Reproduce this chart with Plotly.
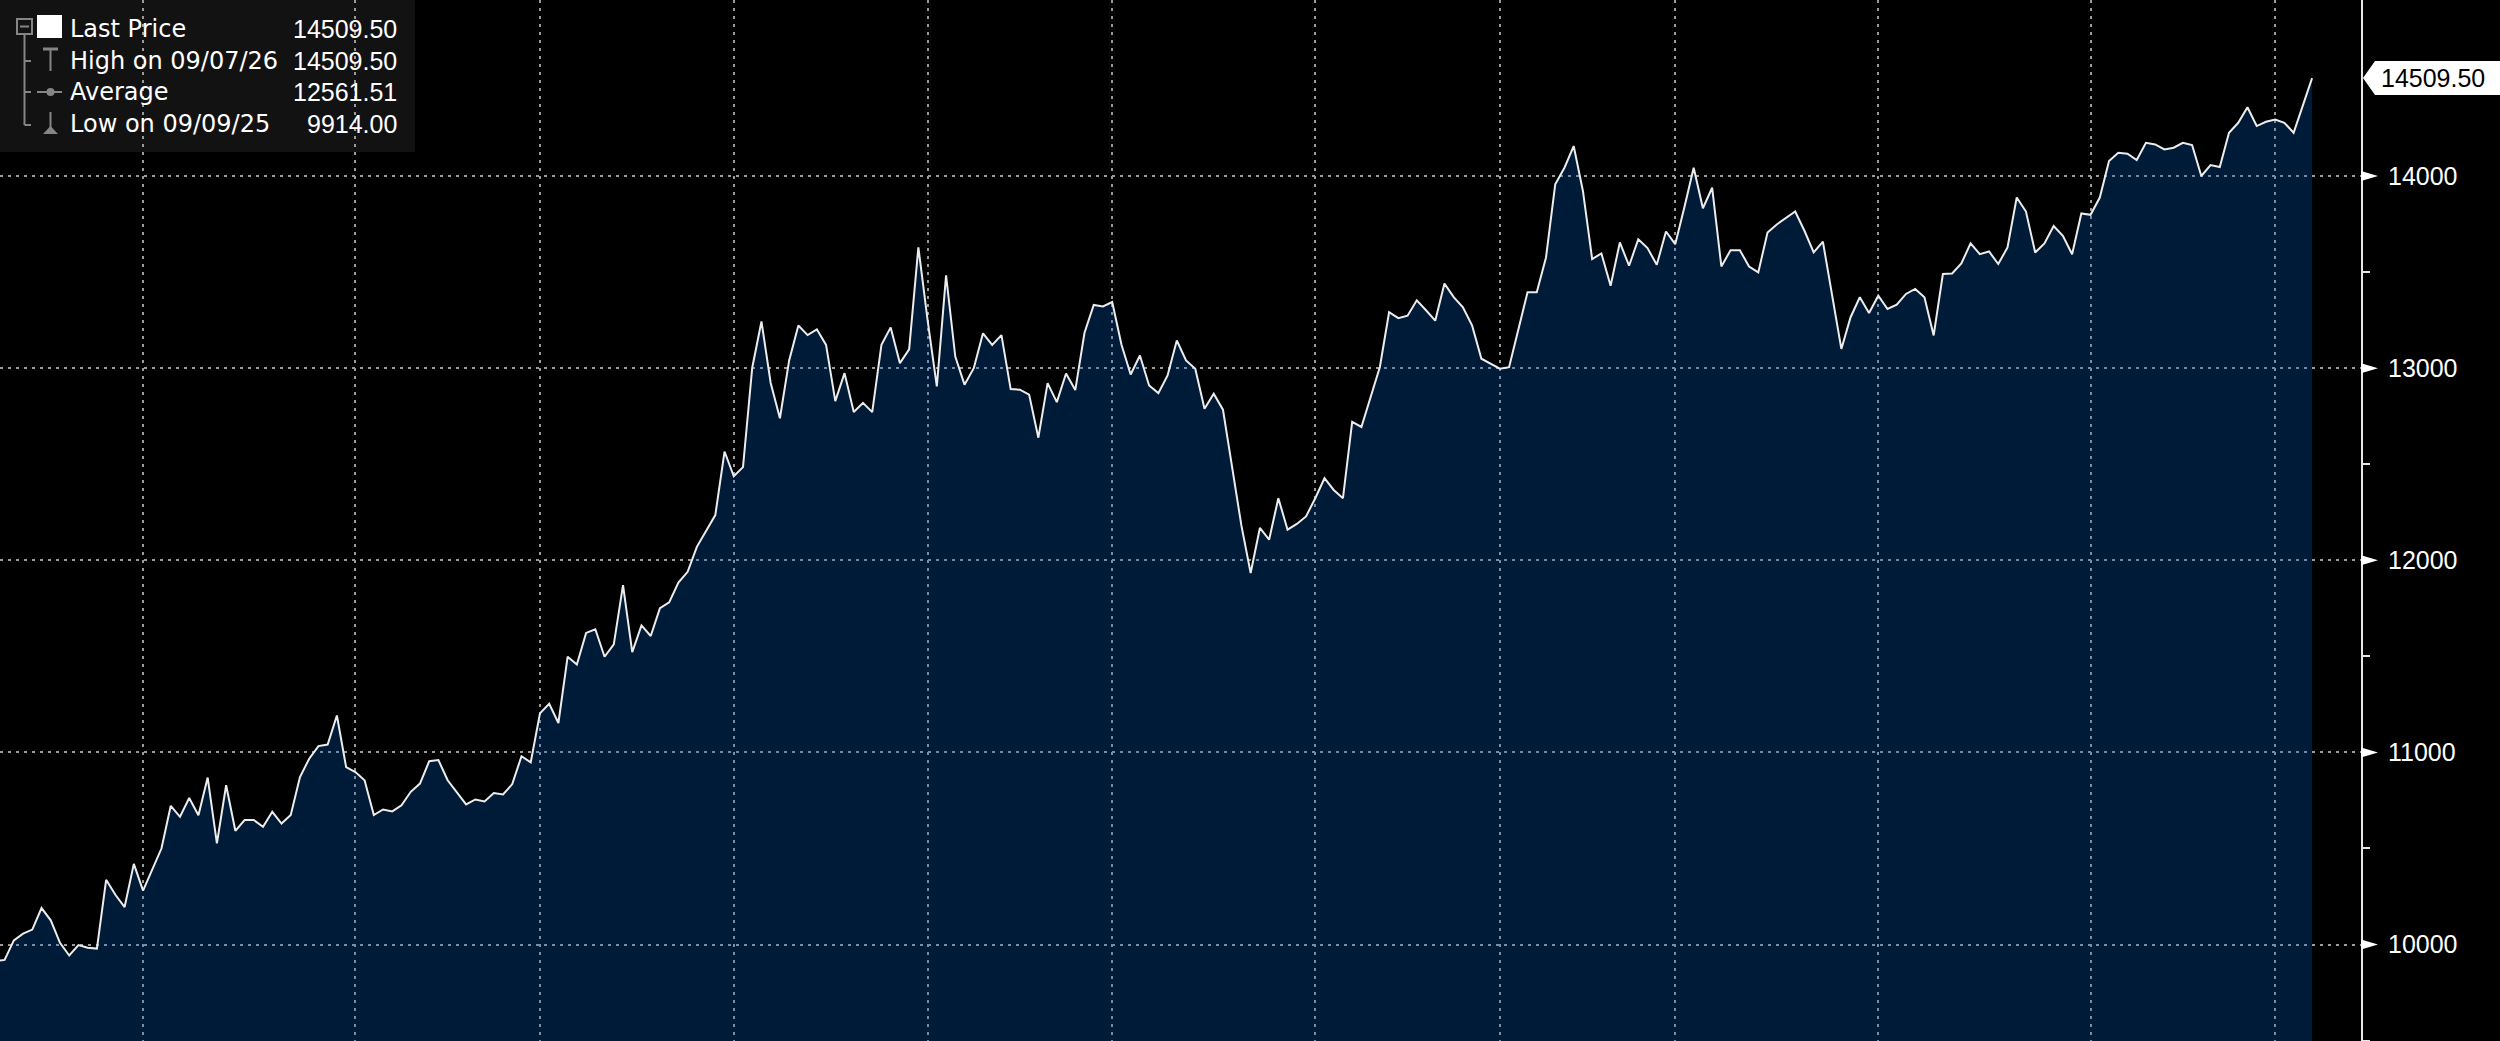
import pandas as pd
import plotly.graph_objects as go

# ---------------- data ----------------
start_date = "2025-09-09"
end_date = "2026-09-07"
holidays = ["2025-12-25", "2025-12-26", "2026-01-01", "2026-04-03",
            "2026-04-06", "2026-05-04", "2026-05-25", "2026-08-31"]

prices = [
    9914, 9920, 10022, 10057, 10078, 10190, 10126, 10009, 9943, 9997,
    9983, 9979, 10337, 10259, 10195, 10420, 10281, 10389, 10501, 10722,
    10665, 10763, 10673, 10869, 10527, 10829, 10592, 10648, 10648, 10613,
    10691, 10630, 10674, 10872, 10967, 11033, 11041, 11192, 10924, 10898,
    10855, 10674, 10703, 10693, 10725, 10795, 10838, 10954, 10960, 10855,
    10790, 10729, 10755, 10745, 10789, 10781, 10835, 10980, 10948, 11203,
    11253, 11153, 11498, 11458, 11622, 11641, 11498, 11562, 11871, 11522,
    11661, 11606, 11751, 11781, 11884, 11940, 12070, 12149, 12235, 12566,
    12437, 12485, 13002, 13243, 12923, 12739, 13040, 13222, 13172, 13202,
    13121, 12828, 12974, 12772, 12819, 12771, 13121, 13212, 13026, 13098,
    13629, 13250, 12905, 13483, 13060, 12914, 13000, 13181, 13121, 13172,
    12891, 12888, 12862, 12638, 12922, 12823, 12972, 12886, 13184, 13329,
    13321, 13344, 13123, 12967, 13066, 12910, 12870, 12962, 13144, 13040,
    12997, 12789, 12867, 12784, 12470, 12180, 11934, 12168, 12107, 12323,
    12159, 12189, 12228, 12323, 12427, 12366, 12323, 12720, 12694, 12850,
    13006, 13291, 13260, 13273, 13353, 13301, 13247, 13440, 13370, 13316,
    13221, 13049, 13022, 12997, 13005, 13196, 13395, 13395, 13576, 13957,
    14043, 14156, 13922, 13568, 13597, 13429, 13654, 13533, 13671, 13625,
    13538, 13711, 13645, 13839, 14043, 13832, 13939, 13529, 13614, 13614,
    13529, 13498, 13706, 13748, 13780, 13815, 13715, 13602, 13658, 13377,
    13100, 13265, 13369, 13287, 13377, 13308, 13330, 13386, 13412, 13369,
    13170, 13490, 13493, 13545, 13649, 13593, 13607, 13542, 13628, 13888,
    13815, 13602, 13649, 13740, 13689, 13593, 13805, 13798, 13888, 14078,
    14121, 14116, 14083, 14173, 14164, 14138, 14147, 14173, 14161, 14000,
    14057, 14047, 14225, 14277, 14358, 14260, 14282, 14294, 14277, 14225,
    14367, 14509.5,
]

average_value = 12561.51          # as printed in the legend
y_ticks = [10000, 11000, 12000, 13000, 14000]
y_minor = [9500, 10500, 11500, 12500, 13500]

# ---------------- derived ----------------
dates = pd.bdate_range(start_date, end_date)
dates = dates[~dates.isin(pd.to_datetime(holidays))]
n = min(len(dates), len(prices))
dates = dates[:n]
prices = prices[:n]
xs = list(range(n))
month_starts = [i for i in range(1, n) if dates[i].month != dates[i - 1].month]

last_v = prices[-1]
hi_i = max(range(n), key=lambda i: prices[i])
lo_i = min(range(n), key=lambda i: prices[i])
hi_date = dates[hi_i].strftime("%m/%d/%y")
lo_date = dates[lo_i].strftime("%m/%d/%y")

# ---------------- geometry ----------------
W, H = 2500, 1041
PW = 2361                      # plot-area width in px
Y_RANGE = [9498, 14916]
X_RANGE = [0.5, 256.3]
DPP = (Y_RANGE[1] - Y_RANGE[0]) / H   # data units per px (y)


def px(p):
    return p / PW


def py(p):
    return 1 - p / H


FONT = "Liberation Sans, Arial, sans-serif"
LABEL_FONT = "DejaVu Sans, Verdana, sans-serif"
GRID = "#9a9a9a"
GREY = "#858585"

fig = go.Figure()
fig.add_trace(go.Scatter(
    x=xs, y=prices, mode="lines",
    line=dict(color="#ececec", width=2),
    fill="tozeroy", fillcolor="rgba(0,108,224,0.25)",
    hoverinfo="skip", showlegend=False,
))

shapes = []
annotations = []

# legend box
shapes.append(dict(type="rect", xref="paper", yref="paper",
                   x0=px(0), x1=px(415), y0=py(152), y1=py(0),
                   fillcolor="#121212", line=dict(width=0), layer="below"))
# legend tree
gl = dict(color=GREY, width=2)
shapes.append(dict(type="rect", xref="paper", yref="paper",
                   x0=px(17), x1=px(32), y0=py(34), y1=py(19), line=gl))
shapes.append(dict(type="line", xref="paper", yref="paper",
                   x0=px(20), x1=px(29), y0=py(26.5), y1=py(26.5), line=gl))
shapes.append(dict(type="line", xref="paper", yref="paper",
                   x0=px(24.5), x1=px(24.5), y0=py(34), y1=py(125), line=gl))
for ry in (61, 92, 125):
    shapes.append(dict(type="line", xref="paper", yref="paper",
                       x0=px(24.5), x1=px(31), y0=py(ry), y1=py(ry), line=gl))
# white square (last price)
shapes.append(dict(type="rect", xref="paper", yref="paper",
                   x0=px(37), x1=px(62), y0=py(38), y1=py(15),
                   fillcolor="#ffffff", line=dict(width=0)))
# high icon
shapes.append(dict(type="line", xref="paper", yref="paper",
                   x0=px(43), x1=px(58), y0=py(49), y1=py(49),
                   line=dict(color=GREY, width=3)))
shapes.append(dict(type="line", xref="paper", yref="paper",
                   x0=px(50.5), x1=px(50.5), y0=py(49), y1=py(71), line=gl))
# average icon
shapes.append(dict(type="line", xref="paper", yref="paper",
                   x0=px(37), x1=px(62), y0=py(92), y1=py(92), line=gl))
shapes.append(dict(type="circle", xref="paper", yref="paper",
                   x0=px(46.5), x1=px(54.5), y0=py(96), y1=py(88),
                   fillcolor=GREY, line=dict(width=0)))
# low icon
shapes.append(dict(type="line", xref="paper", yref="paper",
                   x0=px(50.5), x1=px(50.5), y0=py(112), y1=py(130), line=gl))
shapes.append(dict(type="path", xref="paper", yref="paper",
                   path=f"M {px(43)},{py(134)} L {px(58)},{py(134)} L {px(50.5)},{py(126)} Z",
                   fillcolor=GREY, line=dict(width=0)))

rows = [
    ("Last Price", f"{last_v:.2f}"),
    (f"High on {hi_date}", f"{prices[hi_i]:.2f}"),
    ("Average", f"{average_value:.2f}"),
    (f"Low on {lo_date}", f"{prices[lo_i]:.2f}"),
]
row_y = [29, 61, 92, 124]
for (lab, val), ry in zip(rows, row_y):
    annotations.append(dict(xref="paper", yref="paper", x=px(68), y=py(ry),
                            text=lab, showarrow=False, xanchor="left", yanchor="middle",
                            font=dict(family=LABEL_FONT, size=24, color="#ffffff")))
    annotations.append(dict(xref="paper", yref="paper", x=px(399), y=py(ry),
                            text=val, showarrow=False, xanchor="right", yanchor="middle",
                            font=dict(family=FONT, size=25, color="#ffffff")))

# major tick triangles on the right axis
for v in y_ticks:
    d = 5 * DPP
    shapes.append(dict(type="path", xref="paper", yref="y",
                       path=f"M {px(2361)},{v + d} L {px(2361)},{v - d} L {px(2378)},{v} Z",
                       fillcolor="#ffffff", line=dict(width=0)))

# last price tag
hh = 17 * DPP
shapes.append(dict(type="path", xref="paper", yref="y",
                   path=(f"M {px(2363)},{last_v} L {px(2375)},{last_v + hh} "
                         f"L {px(2500)},{last_v + hh} L {px(2500)},{last_v - hh} "
                         f"L {px(2375)},{last_v - hh} Z"),
                   fillcolor="#ffffff", line=dict(width=0)))
annotations.append(dict(xref="paper", yref="y", x=px(2379), y=last_v,
                        text=f"{last_v:.2f}", showarrow=False,
                        xanchor="left", yanchor="middle",
                        font=dict(family=FONT, size=25, color="#000000")))

fig.update_layout(
    width=W, height=H,
    margin=dict(l=0, r=W - PW, t=0, b=0, pad=0),
    paper_bgcolor="#000000", plot_bgcolor="#000000",
    shapes=shapes, annotations=annotations,
    showlegend=False,
    xaxis=dict(
        range=X_RANGE, tickmode="array", tickvals=month_starts,
        showticklabels=False, ticks="", showgrid=True,
        gridcolor=GRID, gridwidth=1.5, griddash="3px,5px",
        zeroline=False, showline=False, fixedrange=True,
    ),
    yaxis=dict(
        side="right", range=Y_RANGE, tickmode="array", tickvals=y_ticks,
        ticktext=[str(v) for v in y_ticks],
        showgrid=True, gridcolor=GRID, gridwidth=1.5, griddash="3px,5px",
        zeroline=False, showline=True, linecolor="#e6e6e6", linewidth=2,
        ticks="", ticklabelstandoff=20,
        tickfont=dict(family=FONT, size=25, color="#ffffff"),
        minor=dict(tickvals=y_minor, ticks="outside", ticklen=7,
                   tickcolor="#e6e6e6", tickwidth=2, showgrid=False),
        fixedrange=True,
    ),
)

fig.write_html("out.html", config={"displayModeBar": False},
               post_script="document.body.style.margin='0';document.body.style.overflow='hidden';")
